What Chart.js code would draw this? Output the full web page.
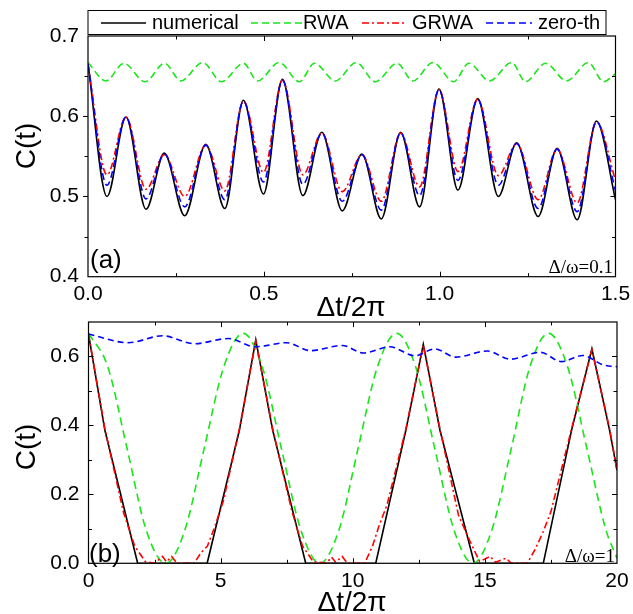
<!DOCTYPE html>
<html>
<head>
<meta charset="utf-8">
<script src="https://cdn.jsdelivr.net/npm/chart.js@4.4.1/dist/chart.umd.min.js"></script>
<style>
  body { margin: 0; background: #fff; }
  #wrap { position: relative; width: 633px; height: 614px; }
  canvas { position: absolute; left: 0; }
</style>
</head>
<body>
<div id="wrap">
  <canvas id="chartA" width="633" height="320" style="top:0"></canvas>
  <canvas id="chartB" width="633" height="294" style="top:320px"></canvas>
</div>
<script>
// ---- panel (a), Δ/ω = 0.1 ----
const tA = [0, 0.054, 0.108, 0.165, 0.217, 0.275, 0.335, 0.389, 0.442, 0.499, 0.553, 0.611, 0.665, 0.723,
            0.779, 0.834, 0.889, 0.943, 0.998, 1.052, 1.108, 1.167, 1.219, 1.280, 1.334, 1.391, 1.446, 1.5];
const numericalA = [0.665, 0.500, 0.599, 0.484, 0.554, 0.476, 0.565, 0.485, 0.620, 0.503, 0.646, 0.501, 0.580, 0.482,
                    0.553, 0.472, 0.580, 0.487, 0.634, 0.508, 0.622, 0.500, 0.567, 0.475, 0.560, 0.471, 0.594, 0.496];
const grwaA = [0.665, 0.527, 0.599, 0.509, 0.552, 0.500, 0.564, 0.507, 0.619, 0.530, 0.645, 0.527, 0.579, 0.506,
               0.552, 0.494, 0.579, 0.512, 0.633, 0.531, 0.621, 0.526, 0.566, 0.496, 0.559, 0.492, 0.593, 0.520];
const zerothA = [0.665, 0.514, 0.599, 0.497, 0.553, 0.487, 0.564, 0.496, 0.619, 0.518, 0.645, 0.515, 0.579, 0.494,
                 0.552, 0.483, 0.579, 0.501, 0.633, 0.520, 0.621, 0.514, 0.566, 0.485, 0.559, 0.481, 0.593, 0.507];
const tRwaA = [0, 0.051, 0.102, 0.162, 0.218, 0.264, 0.326, 0.380, 0.442, 0.482, 0.544, 0.601, 0.644, 0.703, 0.763,
               0.817, 0.879, 0.924, 0.981, 1.040, 1.083, 1.142, 1.205, 1.244, 1.301, 1.361, 1.423, 1.466, 1.5];
const rwaA = [0.667, 0.644, 0.666, 0.643, 0.666, 0.644, 0.667, 0.643, 0.666, 0.644, 0.667, 0.643, 0.666, 0.644, 0.667,
              0.643, 0.666, 0.644, 0.667, 0.643, 0.666, 0.644, 0.667, 0.643, 0.666, 0.644, 0.667, 0.643, 0.653];
const xTicksA = [0, 0.5, 1.0, 1.5];
const yTicksA = [0.4, 0.5, 0.6, 0.7];

// ---- panel (b), Δ/ω = 1 ----
const tNumB = [0, 0.62, 1.86, 4.49, 5.71, 6.33, 6.97, 8.22, 10.87, 12.01, 12.67, 13.30, 14.60, 17.21, 18.28, 19.05, 19.72, 20];
const numericalB = [0.665, 0.386, 0, 0, 0.386, 0.648, 0.386, 0, 0, 0.386, 0.635, 0.386, 0, 0, 0.386, 0.622, 0.386, 0.27];
const tGrwaB = [0, 0.62, 1.33, 1.75, 2.15, 2.5, 2.8, 2.95, 3.15, 3.35, 4.0, 4.25, 4.5, 4.75, 5.1, 5.71, 6.33, 6.97,
                7.7, 8.1, 8.5, 9.0, 9.2, 9.35, 9.6, 9.8, 10.45, 10.75, 11.0, 11.3, 12.01, 12.67, 13.3, 14.0, 14.4,
                14.8, 15.2, 15.4, 15.8, 16.0, 16.6, 16.9, 17.2, 17.5, 18.28, 19.05, 19.72, 20];
const grwaB = [0.665, 0.39, 0.146, 0.05, 0.005, 0, 0.02, 0.004, 0.02, 0, 0, 0.03, 0.05, 0.1, 0.18, 0.39, 0.645, 0.39,
               0.15, 0.05, 0.005, 0, 0.018, 0.003, 0.02, 0, 0, 0.05, 0.11, 0.17, 0.39, 0.632, 0.39, 0.14, 0.07,
               0.005, 0.02, 0.003, 0.015, 0, 0, 0.04, 0.09, 0.15, 0.39, 0.62, 0.39, 0.27];
const tRwaB = [0, 0.73, 1.46, 2.18, 2.92, 3.65, 4.38, 5.12, 5.85, 6.58, 7.30, 8.03, 8.75, 9.48, 10.2, 10.93, 11.66,
               12.38, 13.1, 13.83, 14.55, 15.27, 16.0, 16.7, 17.41, 18.13, 18.86, 19.58, 20];
const rwaB = [0.667, 0.570, 0.333, 0.097, 0, 0.097, 0.334, 0.570, 0.667, 0.569, 0.333, 0.098, 0, 0.097, 0.333, 0.569, 0.667,
              0.570, 0.334, 0.097, 0, 0.098, 0.333, 0.569, 0.667, 0.570, 0.333, 0.097, 0.015];
const tZeroB = [0, 1.5, 2.8, 4.0, 5.3, 6.3, 7.5, 8.4, 9.6, 10.4, 11.4, 12.35, 13.1, 13.9, 15.1, 15.95, 17.1, 17.9, 18.7, 19.5, 20];
const zerothB = [0.665, 0.640, 0.660, 0.637, 0.652, 0.628, 0.640, 0.617, 0.632, 0.610, 0.628, 0.602, 0.622, 0.598,
                 0.616, 0.592, 0.612, 0.585, 0.603, 0.575, 0.57];
const xTicksB = [0, 5, 10, 15, 20];
const yTicksB = [0, 0.2, 0.4, 0.6];

const SANS = '"Liberation Sans", Arial, sans-serif';
const SERIF = '"Liberation Serif", "Times New Roman", serif';
const GREEN = "#19e619";

function pts(ts, vs) {
  return ts.map((t, i) => ({ x: t, y: vs[i] }));
}

// frame + inward ticks on all 4 sides (origin style)
const framePlugin = {
  id: "frame",
  afterDatasetsDraw(chart, args, opts) {
    const { ctx, chartArea: a, scales } = chart;
    const xs = scales.x, ys = scales.y;
    ctx.save();
    ctx.strokeStyle = "#000";
    ctx.lineWidth = 1.2;
    ctx.strokeRect(a.left, a.top, a.right - a.left, a.bottom - a.top);
    ctx.lineWidth = 1;
    ctx.beginPath();
    const nx = Math.round((xs.max - xs.min) / opts.xMinor);
    for (let i = 1; i < nx; i++) {
      const len = i % 2 === 0 ? 5 : 3.5;
      const px = Math.round(xs.getPixelForValue(xs.min + i * opts.xMinor)) + 0.5;
      ctx.moveTo(px, a.bottom); ctx.lineTo(px, a.bottom - len);
      ctx.moveTo(px, a.top); ctx.lineTo(px, a.top + len);
    }
    const ny = Math.round((ys.max - ys.min) / opts.yMinor);
    for (let i = 1; i < ny; i++) {
      const len = i % 2 === 0 ? 5 : 3.5;
      const py = Math.round(ys.getPixelForValue(ys.min + i * opts.yMinor)) + 0.5;
      ctx.moveTo(a.left, py); ctx.lineTo(opts.leftOut ? a.left - len : a.left + len, py);
      ctx.moveTo(a.right, py); ctx.lineTo(a.right - len, py);
    }
    ctx.stroke();
    ctx.restore();
  }
};

// axis titles, panel labels and the legend box
const textPlugin = {
  id: "texts",
  afterDraw(chart, args, opts) {
    const { ctx } = chart;
    ctx.save();
    ctx.fillStyle = "#000";
    for (const t of opts.items || []) {
      ctx.save();
      ctx.font = t.font;
      ctx.textAlign = t.align || "left";
      ctx.textBaseline = t.baseline || "alphabetic";
      ctx.translate(t.x, t.y);
      if (t.rotate) ctx.rotate(t.rotate);
      ctx.fillText(t.text, 0, 0);
      ctx.restore();
    }
    const lg = opts.legend;
    if (lg) {
      ctx.lineWidth = 1;
      ctx.strokeStyle = "#000";
      ctx.strokeRect(lg.box[0], lg.box[1], lg.box[2], lg.box[3]);
      ctx.font = lg.font;
      ctx.textBaseline = "middle";
      for (const it of lg.items) {
        ctx.beginPath();
        ctx.setLineDash(it.dash);
        ctx.strokeStyle = it.color;
        ctx.lineWidth = 1.6;
        ctx.moveTo(it.x1, lg.y); ctx.lineTo(it.x2, lg.y);
        ctx.stroke();
        ctx.setLineDash([]);
        ctx.fillText(it.label, it.tx, lg.y);
      }
    }
    ctx.restore();
  }
};

Chart.register(framePlugin, textPlugin);

function axisX(min, max, ticks, fmt, height) {
  return {
    type: "linear", min, max,
    afterBuildTicks: s => { s.ticks = ticks.map(v => ({ value: v })); },
    ticks: { callback: fmt, font: { family: SANS, size: 21 }, color: "#000", padding: 5, maxRotation: 0, autoSkip: false },
    grid: { display: false, drawTicks: false },
    border: { display: false },
    afterFit: s => { s.height = height; s.paddingLeft = 0; s.paddingRight = 0; }
  };
}

function axisY(min, max, ticks, width) {
  return {
    type: "linear", min, max,
    afterBuildTicks: s => { s.ticks = ticks.map(v => ({ value: v })); },
    ticks: { callback: v => v.toFixed(1), font: { family: SANS, size: 21 }, color: "#000", padding: 9 },
    grid: { display: false, drawTicks: false },
    border: { display: false },
    afterFit: s => { s.width = width; s.paddingTop = 0; s.paddingBottom = 0; }
  };
}

const lineBase = { pointRadius: 0, borderWidth: 1.6, fill: false };

new Chart(document.getElementById("chartA"), {
  type: "line",
  data: {
    datasets: [
      { ...lineBase, label: "zero-th", data: pts(tA, zerothA), borderColor: "#0000ff", borderDash: [7, 4], cubicInterpolationMode: "monotone" },
      { ...lineBase, label: "GRWA", data: pts(tA, grwaA), borderColor: "#ff0000", borderDash: [7, 3, 2, 3], cubicInterpolationMode: "monotone" },
      { ...lineBase, label: "RWA", data: pts(tRwaA, rwaA), borderColor: GREEN, borderDash: [7, 4], cubicInterpolationMode: "monotone" },
      { ...lineBase, label: "numerical", data: pts(tA, numericalA), borderColor: "#000", cubicInterpolationMode: "monotone" }
    ]
  },
  options: {
    responsive: false,
    animation: false,
    events: [],
    layout: { padding: { left: 0, top: 36, right: 17.5, bottom: 0 } },
    scales: {
      x: axisX(0, 1.5, xTicksA, v => v.toFixed(1), 43.3),
      y: axisY(0.4, 0.7, yTicksA, 88)
    },
    plugins: {
      legend: { display: false },
      tooltip: { enabled: false },
      frame: { xMinor: 0.25, yMinor: 0.05, leftOut: true },
      texts: {
        items: [
          { text: "C(t)", x: 27, y: 146, font: `28px ${SANS}`, align: "center", baseline: "middle", rotate: -Math.PI / 2 },
          { text: "Δt/2π", x: 351, y: 316, font: `28px ${SANS}`, align: "center" },
          { text: "(a)", x: 90, y: 268, font: `26px ${SANS}` },
          { text: "Δ/ω=0.1", x: 613, y: 273, font: `19px ${SERIF}`, align: "right" }
        ],
        legend: {
          box: [88, 10.5, 518, 24],
          y: 23,
          font: `20px ${SANS}`,
          items: [
            { label: "numerical", color: "#000", dash: [], x1: 101, x2: 146, tx: 152 },
            { label: "RWA", color: GREEN, dash: [7, 4], x1: 251, x2: 302, tx: 303 },
            { label: "GRWA", color: "#ff0000", dash: [7, 3, 2, 3], x1: 362, x2: 405, tx: 412 },
            { label: "zero-th", color: "#0000ff", dash: [7, 4], x1: 486, x2: 532, tx: 538 }
          ]
        }
      }
    }
  }
});

new Chart(document.getElementById("chartB"), {
  type: "line",
  data: {
    datasets: [
      { ...lineBase, label: "zero-th", data: pts(tZeroB, zerothB), borderColor: "#0000ff", borderDash: [6, 4], cubicInterpolationMode: "monotone" },
      { ...lineBase, label: "GRWA", data: pts(tGrwaB, grwaB), borderColor: "#ff0000", borderDash: [7, 3, 2, 3], tension: 0 },
      { ...lineBase, label: "RWA", data: pts(tRwaB, rwaB), borderColor: GREEN, borderDash: [8, 5], cubicInterpolationMode: "monotone" },
      { ...lineBase, label: "numerical", data: pts(tNumB, numericalB), borderColor: "#000", tension: 0 }
    ]
  },
  options: {
    responsive: false,
    animation: false,
    events: [],
    layout: { padding: { left: 0, top: 2, right: 16, bottom: 0 } },
    scales: {
      x: axisX(0, 20, xTicksB, v => String(v), 50.7),
      y: axisY(0, 0.7, yTicksB, 88.5)
    },
    plugins: {
      legend: { display: false },
      tooltip: { enabled: false },
      frame: { xMinor: 2.5, yMinor: 0.1, leftOut: false },
      texts: {
        items: [
          { text: "C(t)", x: 27, y: 127, font: `28px ${SANS}`, align: "center", baseline: "middle", rotate: -Math.PI / 2 },
          { text: "Δt/2π", x: 352, y: 291, font: `28px ${SANS}`, align: "center" },
          { text: "(b)", x: 89, y: 242, font: `26px ${SANS}` },
          { text: "Δ/ω=1", x: 615, y: 242, font: `19px ${SERIF}`, align: "right" }
        ]
      }
    }
  }
});
</script>
</body>
</html>
